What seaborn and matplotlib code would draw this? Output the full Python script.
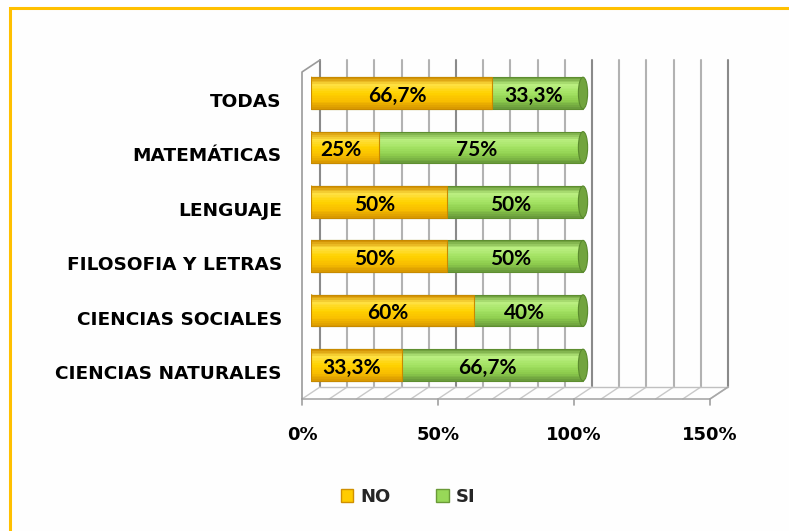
import numpy as np
import pandas as pd
import matplotlib
matplotlib.use('Agg')
import matplotlib.pyplot as plt
import seaborn as sns
from matplotlib.patches import Ellipse, Rectangle, Patch
from matplotlib.colors import LinearSegmentedColormap
from matplotlib.transforms import ScaledTranslation

categories = ["TODAS", "MATEMÁTICAS", "LENGUAJE", "FILOSOFIA Y LETRAS",
              "CIENCIAS SOCIALES", "CIENCIAS NATURALES"]
no_values = [66.7, 25, 50, 50, 60, 33.3]
si_values = [33.3, 75, 50, 50, 40, 66.7]
series_names = ["NO", "SI"]
x_ticks = [0, 50, 100, 150]
x_tick_labels = ["0%", "50%", "100%", "150%"]
wall_lines = list(range(0, 151, 10))

sns.set_theme(style='white')
plt.rcParams['font.family'] = ['DejaVu Sans']
plt.rcParams['font.weight'] = 'bold'

fig = plt.figure(figsize=(7.89, 5.31), dpi=100)
fig.patch.set_facecolor('#FEFEFE')
ax = fig.add_axes([311/789, (531-393)/531, 408/789, 327/531])
ax.set_facecolor('none')

YLIM = (5.515, -0.496)
XLIM = (0, 150)
DX, DY = 3.31, 0.11

# 3D-style walls and floor (drawn behind the bars)
y_back_bot = YLIM[0] - DY
y_back_top = YLIM[1] - DY
y_front_bot = YLIM[0] + DY
y_front_top = YLIM[1] + DY
for v in wall_lines:
    major = v in x_ticks
    col = '#8A8A8A' if major else '#B2B2B2'
    ax.plot([v + DX, v + DX], [y_back_bot, y_back_top], color=col,
            lw=1.5, clip_on=False, zorder=0.5)
    ax.plot([v - DX, v + DX], [y_front_bot, y_back_bot], color='#C8C8C8',
            lw=1.0, clip_on=False, zorder=0.5)
ax.plot([-DX, 150 - DX], [y_front_bot, y_front_bot], color='#A8A8A8', lw=1.2,
        clip_on=False, zorder=0.6)
ax.plot([DX, 150 + DX], [y_back_bot, y_back_bot], color='#C0C0C0', lw=1.0,
        clip_on=False, zorder=0.6)
ax.plot([150 - DX, 150 + DX], [y_front_bot, y_back_bot], color='#A8A8A8',
        lw=1.2, clip_on=False, zorder=0.6)
for v in x_ticks:
    ax.plot([v - DX, v - DX], [y_front_bot, y_front_bot + 0.11],
            color='#A0A0A0', lw=1.2, clip_on=False, zorder=0.6)
ax.plot([-DX, -DX, DX], [y_front_bot, y_front_top, y_back_top],
        color='#9A9A9A', lw=1.2, clip_on=False, zorder=0.6)

df = pd.DataFrame({'cat': categories, 'NO': no_values, 'SI': si_values})
df['TOTAL'] = df['NO'] + df['SI']

BW = 0.58
sns.barplot(data=df, x='TOTAL', y='cat', orient='h', color='#98D858', width=BW,
            ax=ax, label='SI', order=categories)
sns.barplot(data=df, x='NO', y='cat', orient='h', color='#FFCC00', width=BW,
            ax=ax, label='NO', order=categories)

orange_cmap = LinearSegmentedColormap.from_list(
    'o', ['#D08C00', '#FFE040', '#FFD200', '#F8BE00', '#D69600'])
green_cmap = LinearSegmentedColormap.from_list(
    'g', ['#6A9A38', '#BAEE80', '#A4E364', '#8DCC4D', '#66963A'])
NSTRIPES = 18

def shade(p, cmap, z):
    x0, y0, w, h = p.get_x(), p.get_y(), p.get_width(), p.get_height()
    sh = h / NSTRIPES
    for k in range(NSTRIPES):
        ax.add_patch(Rectangle((x0, y0 + k * sh), w, sh * 1.08,
                               facecolor=cmap((k + 0.5) / NSTRIPES),
                               edgecolor='none', lw=0, zorder=z,
                               antialiased=False))

green_bars = ax.containers[0]
orange_bars = ax.containers[1]

for p in green_bars:
    shade(p, green_cmap, 2.0)
    p.set_facecolor('none'); p.set_edgecolor('#5E8E30'); p.set_linewidth(0.8)
    p.set_zorder(2.1)
    x0, y0, w, h = p.get_x(), p.get_y(), p.get_width(), p.get_height()
    ax.add_patch(Ellipse((x0 + w, y0 + h / 2), width=3.4, height=h,
                         facecolor='#72A43E', edgecolor='#5A8A2E', lw=0.8,
                         zorder=2.2))

for p in orange_bars:
    x0, y0, w, h = p.get_x(), p.get_y(), p.get_width(), p.get_height()
    ax.add_patch(Ellipse((x0, y0 + h / 2), width=3.4, height=h,
                         facecolor='#F5C200', edgecolor='#C88A00', lw=0.8,
                         zorder=2.3))
    shade(p, orange_cmap, 2.4)
    p.set_facecolor('none'); p.set_edgecolor('#C88A00'); p.set_linewidth(0.8)
    p.set_zorder(2.5)

def fmt(v):
    return f"{v:g}".replace('.', ',') + '%'

val_font = dict(fontsize=15, weight='bold', color='black', zorder=5,
                family=['Lato', 'DejaVu Sans'])
for i, (n, s) in enumerate(zip(no_values, si_values)):
    ax.text(n / 2 - 1.7, i + 0.05, fmt(n), ha='center', va='center', **val_font)
    ax.text(n + s / 2 - 1.7, i + 0.05, fmt(s), ha='center', va='center', **val_font)

ax.set_xlim(*XLIM)
ax.set_ylim(*YLIM)
ax.set_xticks(x_ticks)
ax.set_xticklabels(x_tick_labels, fontsize=13, weight='bold', color='black')
ax.set_yticks(range(len(categories)))
ax.set_yticklabels(categories, fontsize=13.3, weight='bold', color='black')
ax.tick_params(axis='both', length=0)
ax.tick_params(axis='x', pad=24)
ax.tick_params(axis='y', pad=21)
ax.set_xlabel('')
ax.set_ylabel('')
for sp in ax.spines.values():
    sp.set_visible(False)
ax.grid(False)
for lab in ax.get_xticklabels():
    lab.set_transform(lab.get_transform() + ScaledTranslation(-9 / 100, 0, fig.dpi_scale_trans))
for lab in ax.get_yticklabels():
    lab.set_transform(lab.get_transform() + ScaledTranslation(0, -7 / 100, fig.dpi_scale_trans))

if ax.get_legend() is not None:
    ax.get_legend().remove()
handles = [Patch(facecolor='#FFCC00', edgecolor='#D09000'),
           Patch(facecolor='#98D858', edgecolor='#6A9A38')]
fig.legend(handles, series_names, loc='center',
           bbox_to_anchor=(408 / 789, 1 - 497 / 531), ncol=2, frameon=False,
           prop={'weight': 'bold', 'size': 13}, handlelength=0.7,
           handleheight=0.7, handletextpad=0.4, columnspacing=2.5)

fig.add_artist(Rectangle((10 / 789, -0.1), 1.2, (531 - 8) / 531 + 0.1,
                         fill=False, edgecolor='#FFC000', lw=2.2,
                         transform=fig.transFigure, clip_on=False))

fig.savefig('out.png', dpi=100)
